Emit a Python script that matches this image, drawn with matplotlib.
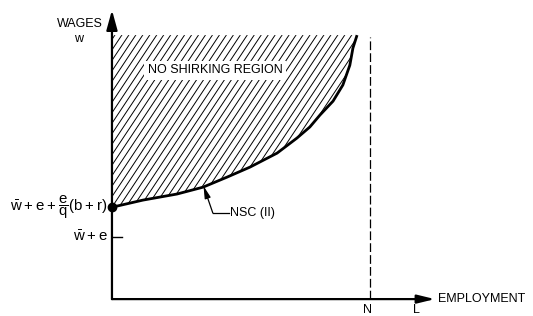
import numpy as np
import matplotlib
matplotlib.use("Agg")
import matplotlib.pyplot as plt
from matplotlib.patches import Polygon
from matplotlib.collections import LineCollection

plt.rcParams['font.family'] = ['Liberation Sans', 'DejaVu Sans']
plt.rcParams['mathtext.default'] = 'regular'

# no-shirking condition (employment as share of N, wage scaled to top of region)
nsc_L = [0.0, 0.120, 0.252, 0.353, 0.446, 0.535, 0.640, 0.717, 0.767,
         0.806, 0.857, 0.895, 0.922, 0.934, 0.950]
nsc_w = [0.348, 0.375, 0.398, 0.424, 0.462, 0.500, 0.553, 0.610, 0.652,
         0.697, 0.750, 0.811, 0.886, 0.951, 1.0]
w_top = 1.0
N_pos = 1.0
wbar_e = 0.235
L_end = 1.252
W_end = 1.095

fig = plt.figure(figsize=(5.33, 3.16), dpi=100)
ax = fig.add_axes([0, 0, 1, 1])
ax.set_xlim(-0.434, 1.632)
ax.set_ylim(-0.064, 1.133)
ax.axis('off')

# shaded region above the NSC, hatched with steep diagonal strokes
region = Polygon(list(zip(nsc_L, nsc_w)) + [(0, w_top)], closed=True,
                 facecolor='none', edgecolor='none')
ax.add_patch(region)
slope = 1.47
segs = [[(c, 0.3), (c + 0.75 / slope, 1.05)] for c in np.arange(-0.6, 1.0, 0.027)]
hatch = LineCollection(segs, colors='black', linewidths=0.7)
ax.add_collection(hatch)
hatch.set_clip_path(region)

ax.plot(nsc_L, nsc_w, color='black', lw=2.0, solid_capstyle='butt', solid_joinstyle='round')
ax.plot([0], [nsc_w[0]], 'o', color='black', ms=6)

# axes with arrows
ax.annotate('', xy=(0, W_end), xytext=(0, 0),
            arrowprops=dict(arrowstyle='-|>,head_length=0.8,head_width=0.22',
                            mutation_scale=15, lw=1.6, color='black',
                            shrinkA=0, shrinkB=0))
ax.annotate('', xy=(L_end, 0), xytext=(0, 0),
            arrowprops=dict(arrowstyle='-|>,head_length=0.7,head_width=0.17',
                            mutation_scale=15, lw=1.6, color='black',
                            shrinkA=0, shrinkB=0))

# labour force line
ax.plot([N_pos, N_pos], [0, 0.992], color='black', lw=0.9, dashes=(7, 2.5))

# tick at w+e
ax.plot([0, 0.039], [wbar_e, wbar_e], color='black', lw=1.0)

fs = 9
ax.text(-0.124, 1.042, 'WAGES', ha='center', va='center', fontsize=fs)
ax.text(-0.128, 0.985, 'w', ha='center', va='center', fontsize=fs)
ax.text(-0.016, nsc_w[0], r'$\bar{w}+e+\dfrac{e}{q}(b+r)$', ha='right', va='center', fontsize=10.8)
ax.text(-0.016, wbar_e, r'$\bar{w}+e$', ha='right', va='center', fontsize=10.8)
ax.text(0.399, 0.866, 'NO SHIRKING REGION', ha='center', va='center', fontsize=fs,
        bbox=dict(facecolor='white', edgecolor='none', pad=2.5))
ax.text(0.456, 0.326, 'NSC (II)', ha='left', va='center', fontsize=fs)
ax.text(N_pos - 0.008, -0.042, 'N', ha='center', va='center', fontsize=fs)
ax.text(1.182, -0.042, 'L', ha='center', va='center', fontsize=fs)
ax.text(1.264, 0.0, 'EMPLOYMENT', ha='left', va='center', fontsize=fs)

# leader for NSC label
ax.plot([0.453, 0.391], [0.326, 0.326], color='black', lw=0.9)
ax.annotate('', xy=(0.355, 0.428), xytext=(0.391, 0.326),
            arrowprops=dict(arrowstyle='-|>,head_length=0.6,head_width=0.15',
                            mutation_scale=12, lw=0.9, color='black',
                            shrinkA=0, shrinkB=0))

fig.savefig('out.png', dpi=100)
